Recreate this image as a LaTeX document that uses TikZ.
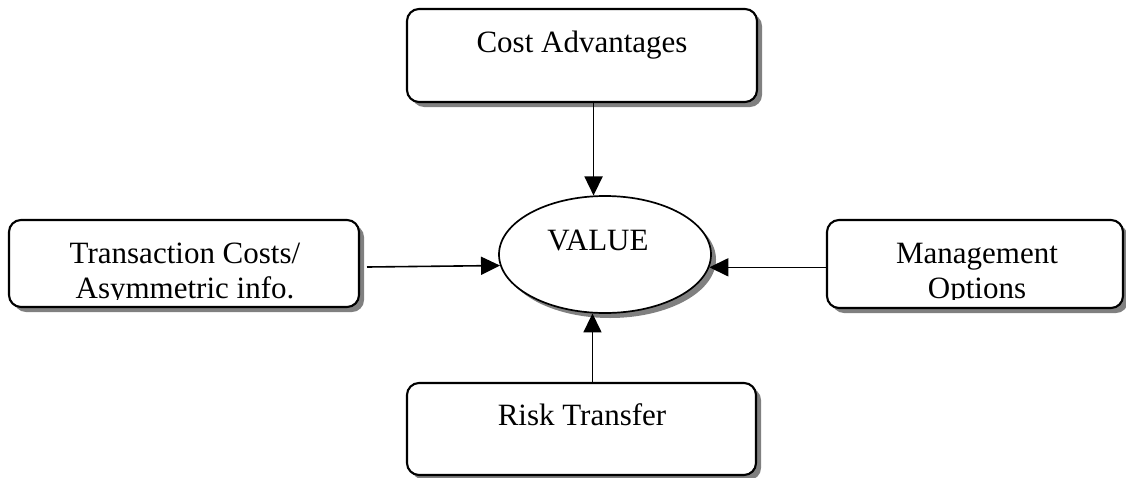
\documentclass[tikz,border=0pt]{standalone}
\usepackage{fontspec}
\setmainfont{Liberation Serif}
\usetikzlibrary{shapes.geometric,shadows,arrows.meta}
\tikzset{
  box/.style={draw, line width=2.1pt, rounded corners=12pt, fill=white, inner sep=0pt,
    drop shadow={shadow xshift=5pt, shadow yshift=-5pt, fill=black!50, opacity=1}},
  oval/.style={ellipse, draw, line width=1.7pt, fill=white, inner sep=0pt,
    drop shadow={shadow xshift=5pt, shadow yshift=-5pt, fill=black!50, opacity=1}},
  lbl/.style={anchor=base, align=center, inner sep=0pt, font=\fontsize{31}{35}\selectfont},
  arr/.style={line width=1.6pt, -{Triangle[length=19pt,width=18pt]}}
}
\begin{document}
\begin{tikzpicture}[x=1pt,y=-1pt]
\useasboundingbox (0,0) rectangle (1126,477);
% boxes
\node[box, minimum width=350pt, minimum height=93pt] (cost) at (582,55.5) {};
\node[box, minimum width=350pt, minimum height=87pt] (trans) at (184,263.5) {};
\node[box, minimum width=296pt, minimum height=88pt] (mgmt) at (975,264) {};
\node[box, minimum width=349pt, minimum height=92pt] (risk) at (581.5,429) {};
\node[oval, minimum width=212pt, minimum height=117pt] (value) at (605,254.5) {};
% texts
\node[lbl] (costT) at (582,52) {Cost Advantages};
\node[lbl] (valueT) at (598,250) {VALUE};
\node[lbl] (riskT) at (582,425) {Risk Transfer};
\begin{scope}
  \clip (0,200) rectangle (1126,299.5);
  \node[lbl] (transT) at (185,298) {Transaction Costs/\\Asymmetric info.};
  \node[lbl] (mgmtT) at (977,298) {Management\\Options};
\end{scope}
% connectors
\coordinate (lstart) at (367,267);
\draw[arr] (value.101.7 |- cost.south) -- (value.101.7);
\draw[arr] (value.258.3 |- risk.north) -- (value.258.3);
\draw[arr] (lstart) -- (value.186.9);
\draw[arr] (mgmt.west |- value.353.1) -- (value.353.1);
\end{tikzpicture}
\end{document}
